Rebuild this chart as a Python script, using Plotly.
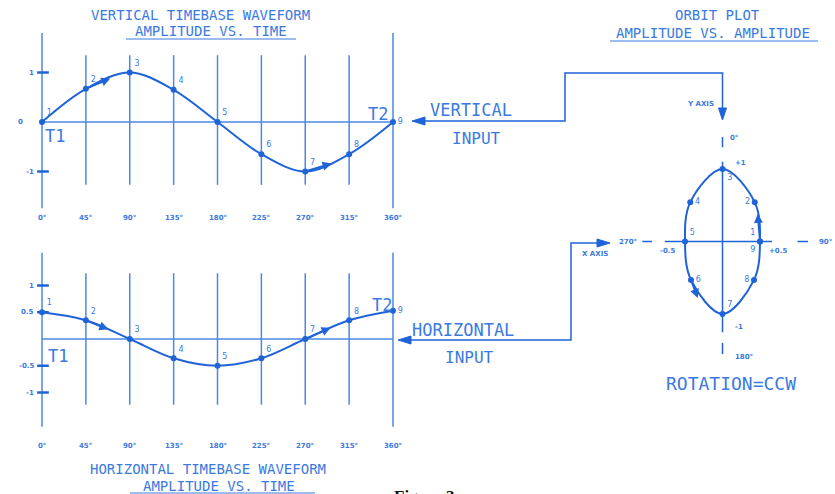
import plotly.graph_objects as go

# ---------------- data ----------------
DEGREES = [0, 45, 90, 135, 180, 225, 270, 315, 360]
DEG_LABELS = ["0°", "45°", "90°", "135°", "180°", "225°", "270°", "315°", "360°"]
POINT_LABELS = ["1", "2", "3", "4", "5", "6", "7", "8", "9"]

VERT_AMP = [0, 0.67, 1.0, 0.65, 0, -0.65, -1.0, -0.65, 0]
HORZ_AMP = [0.5, 0.35, 0, -0.36, -0.5, -0.36, 0, 0.35, 0.53]

ORBIT_X = [0.5, 0.43, 0, -0.43, -0.5, -0.42, 0, 0.42, 0.5]
ORBIT_Y = [0, 0.54, 1.0, 0.54, 0, -0.53, -1.0, -0.53, 0]

VERT_TICKS = [1, 0, -1]
VERT_TICK_TEXT = ["1", "0", "-1"]
HORZ_TICKS = [1, 0.5, -0.5, -1]
HORZ_TICK_TEXT = ["1", "0.5", "-0.5", "-1"]

# direction arrows: head position + index of the point the arrow runs from
VERT_ARROW_DEG = [70, 297]
VERT_ARROW_AMP = [0.88, -0.84]
VERT_ARROW_FROM = [1, 6]
HORZ_ARROW_DEG = [68, 296]
HORZ_ARROW_AMP = [0.18, 0.21]
HORZ_ARROW_FROM = [1, 6]
ORBIT_ARROW_X = [0.47, -0.33]
ORBIT_ARROW_Y = [0.38, -0.78]
ORBIT_ARROW_FROM = [0, 5]

# ---------------- style / geometry ----------------
W, H = 835, 494
LINE = "#1f63d8"
GRID = "#4b88e6"
TEXT = "#3a7ae2"
FONT = "DejaVu Sans"
MONO = "DejaVu Sans Mono"


def px(x):
    return x / W


def py(y):
    return 1 - y / H


# top waveform: 0deg at 42px, 360deg at 393px ; zero at 122px, 49.5 px/unit
X_RANGE = [-40, 400]
x0p, x1p = 42 - 40 * 351 / 360, 393 + 40 * 351 / 360
TOP_R = 2.0
top_t, top_b = 122 - TOP_R * 49.5, 122 + TOP_R * 49.5
BOT_R = 2.1
bot_t, bot_b = 339 - BOT_R * 53.5, 339 + BOT_R * 53.5
# orbit: centre 722.5,241.5 ; 75 px/unit horizontally, 72.5 vertically
ORB_XR, ORB_YR = 1.5, 1.6
orb_l, orb_r = 722.5 - ORB_XR * 75, 722.5 + ORB_XR * 75
orb_t, orb_b = 241.5 - ORB_YR * 72.5, 241.5 + ORB_YR * 72.5

fig = go.Figure()

fig.add_trace(go.Scatter(
    x=DEGREES, y=VERT_AMP, mode="lines+markers+text", line=dict(color=LINE, width=2, shape="spline"),
    marker=dict(color=LINE, size=6), text=POINT_LABELS,
    textposition=["top right"] * 8 + ["middle right"],
    textfont=dict(family=FONT, size=8, color=TEXT), xaxis="x", yaxis="y", cliponaxis=False))
fig.add_trace(go.Scatter(
    x=DEGREES, y=HORZ_AMP, mode="lines+markers+text", line=dict(color=LINE, width=2, shape="spline"),
    marker=dict(color=LINE, size=6), text=POINT_LABELS,
    textposition=["top right"] * 8 + ["middle right"],
    textfont=dict(family=FONT, size=8, color=TEXT), xaxis="x2", yaxis="y2", cliponaxis=False))
fig.add_trace(go.Scatter(
    x=ORBIT_X, y=ORBIT_Y, mode="lines+markers+text", line=dict(color=LINE, width=2, shape="spline"),
    marker=dict(color=LINE, size=6), text=POINT_LABELS,
    textposition=["top left", "middle left", "bottom right", "middle right", "top right",
                  "middle right", "top right", "middle left", "bottom left"],
    textfont=dict(family=FONT, size=8, color=TEXT), xaxis="x3", yaxis="y3", cliponaxis=False))

shapes = []
annotations = []


def ann(text, x, y, size=8, color=TEXT, xanchor="center", yanchor="middle", family=MONO, **kw):
    annotations.append(dict(text=text, x=px(x), y=py(y), xref="paper", yref="paper",
                            xanchor=xanchor, yanchor=yanchor, showarrow=False,
                            font=dict(family=family, size=size, color=color), **kw))


# direction arrowheads (drawn from a curve point towards the head)
for xs, ys, hx, hy, frm, xa, ya in (
        (DEGREES, VERT_AMP, VERT_ARROW_DEG, VERT_ARROW_AMP, VERT_ARROW_FROM, "x", "y"),
        (DEGREES, HORZ_AMP, HORZ_ARROW_DEG, HORZ_ARROW_AMP, HORZ_ARROW_FROM, "x2", "y2"),
        (ORBIT_X, ORBIT_Y, ORBIT_ARROW_X, ORBIT_ARROW_Y, ORBIT_ARROW_FROM, "x3", "y3")):
    for x, y, i in zip(hx, hy, frm):
        annotations.append(dict(x=x, y=y, ax=xs[i], ay=ys[i], xref=xa, yref=ya, axref=xa, ayref=ya,
                                text="", showarrow=True, arrowhead=2, arrowsize=0.9, arrowwidth=2,
                                arrowcolor=LINE))

# grid lines of the two waveform panels
for xa, ya, outer, inner, ylab in (("x", "y", (1.8, -1.74), (1.35, -1.27), -1.94),
                                   ("x2", "y2", (1.61, -1.64), (1.23, -1.23), -2.0)):
    for d in DEGREES:
        top, bot = outer if d in (DEGREES[0], DEGREES[-1]) else inner
        shapes.append(dict(type="line", xref=xa, yref=ya, x0=d, x1=d, y0=bot, y1=top,
                           line=dict(color=GRID, width=1.5), layer="below"))
    shapes.append(dict(type="line", xref=xa, yref=ya, x0=DEGREES[0], x1=DEGREES[-1], y0=0, y1=0,
                       line=dict(color=GRID, width=1.5), layer="below"))
    for d, lab in zip(DEGREES, DEG_LABELS):
        annotations.append(dict(text="<b>" + lab + "</b>", x=d, y=ylab, xref=xa, yref=ya, showarrow=False,
                                font=dict(family=FONT, size=7, color=TEXT)))

# amplitude ticks & labels
for t, lab in zip(VERT_TICKS, VERT_TICK_TEXT):
    if t != 0:
        shapes.append(dict(type="line", xref="x", yref="y", x0=-5, x1=7, y0=t, y1=t,
                           line=dict(color=LINE, width=2.5)))
    annotations.append(dict(text="<b>" + lab + "</b>", x=-17 if t == 0 else -6, y=t, xref="x", yref="y",
                            xanchor="right", showarrow=False, font=dict(family=FONT, size=7, color=TEXT)))
for t, lab in zip(HORZ_TICKS, HORZ_TICK_TEXT):
    shapes.append(dict(type="line", xref="x2", yref="y2", x0=-5, x1=7, y0=t, y1=t,
                       line=dict(color=LINE, width=2.5)))
    annotations.append(dict(text="<b>" + lab + "</b>", x=-6, y=t, xref="x2", yref="y2",
                            xanchor="right", showarrow=False, font=dict(family=FONT, size=7, color=TEXT)))

# orbit axes (centre-line style)
orb_line = dict(color=LINE, width=1.5)
for y0, y1 in ((1.30, 1.44), (-1.25, 1.10), (-1.55, -1.40)):
    shapes.append(dict(type="line", xref="x3", yref="y3", x0=0, x1=0, y0=y0, y1=y1, line=orb_line))
for x0, x1 in ((-0.77, 0.66), (-1.07, -0.94), (1.0, 1.14)):
    shapes.append(dict(type="line", xref="x3", yref="y3", x0=x0, x1=x1, y0=0, y1=0, line=orb_line))

# connectors
conn = dict(color=LINE, width=1.5)
shapes.append(dict(type="path", xref="paper", yref="paper", line=conn,
                   path=f"M{px(420)},{py(121)} L{px(565)},{py(121)} L{px(565)},{py(73)} "
                        f"L{px(722.5)},{py(73)} L{px(722.5)},{py(110)}"))
shapes.append(dict(type="path", xref="paper", yref="paper", line=conn,
                   path=f"M{px(404)},{py(340)} L{px(571)},{py(340)} L{px(571)},{py(243)} L{px(600)},{py(243)}"))
for tri in (((412, 121), (425, 117), (425, 125)),
            ((722.5, 120), (718.5, 108), (726.5, 108)),
            ((398, 340), (411, 336), (411, 344)),
            ((610, 243), (597, 239), (597, 247))):
    (a, b), (c, d), (e, f) = tri
    shapes.append(dict(type="path", xref="paper", yref="paper", fillcolor=LINE, line=dict(color=LINE, width=1),
                       path=f"M{px(a)},{py(b)} L{px(c)},{py(d)} L{px(e)},{py(f)} Z"))

# titles
ann("VERTICAL TIMEBASE WAVEFORM", 200, 15, size=14)
ann("AMPLITUDE VS. TIME", 211, 31, size=14)
shapes.append(dict(type="line", xref="paper", yref="paper", x0=px(126), x1=px(296), y0=py(39), y1=py(39),
                   line=dict(color=TEXT, width=1.2)))
ann("HORIZONTAL TIMEBASE WAVEFORM", 208, 469, size=14)
ann("AMPLITUDE VS. TIME", 219, 486, size=14)
shapes.append(dict(type="line", xref="paper", yref="paper", x0=px(130), x1=px(315), y0=py(493), y1=py(493),
                   line=dict(color=TEXT, width=1.2)))
ann("ORBIT PLOT", 717, 15, size=14)
ann("AMPLITUDE VS. AMPLITUDE", 713, 33, size=14)
shapes.append(dict(type="line", xref="paper", yref="paper", x0=px(610), x1=px(818), y0=py(41), y1=py(41),
                   line=dict(color=TEXT, width=1.2)))

# T1 / T2
ann("T1", 43, 136, size=17, xanchor="left")
ann("T2", 366, 114, size=17, xanchor="left")
ann("T1", 46, 356, size=17, xanchor="left")
ann("T2", 370, 305, size=17, xanchor="left")

# inputs
ann("VERTICAL", 428, 110, size=17, xanchor="left")
ann("INPUT", 450, 139, size=16, xanchor="left")
ann("HORIZONTAL", 410, 330, size=17, xanchor="left")
ann("INPUT", 443, 357, size=16, xanchor="left")

# orbit labels
ann("<b>Y AXIS</b>", 700, 104, size=7, family=FONT)
ann("<b>X AXIS</b>", 595, 254, size=7, family=FONT)
ann("<b>270°</b>", 628, 242, size=7, family=FONT)
ann("<b>90°</b>", 834, 242, size=7, family=FONT, xanchor="right")
ann("<b>0°</b>", 734, 138, size=7, family=FONT)
ann("<b>180°</b>", 744, 357, size=7, family=FONT)
ann("<b>+1</b>", 740, 163, size=7, family=FONT)
ann("<b>-1</b>", 739, 327, size=7, family=FONT)
ann("<b>-0.5</b>", 667, 251, size=7, family=FONT)
ann("<b>+0.5</b>", 778, 251, size=7, family=FONT)
ann("ROTATION=CCW", 731, 383, size=18)

# caption (cut off at the bottom edge, as in the source)
ann("<b>Figure 3</b>", 392, 485, size=17, color="#111111", xanchor="left", yanchor="top",
    family="Liberation Serif")

hidden = dict(visible=False, fixedrange=True)
fig.update_layout(
    width=W, height=H, margin=dict(l=0, r=0, t=0, b=0), autosize=False,
    paper_bgcolor="white", plot_bgcolor="white", showlegend=False,
    xaxis=dict(domain=[px(x0p), px(x1p)], range=X_RANGE, anchor="y", **hidden),
    yaxis=dict(domain=[py(top_b), py(top_t)], range=[-TOP_R, TOP_R], anchor="x", **hidden),
    xaxis2=dict(domain=[px(x0p), px(x1p)], range=X_RANGE, anchor="y2", **hidden),
    yaxis2=dict(domain=[py(bot_b), py(bot_t)], range=[-BOT_R, BOT_R], anchor="x2", **hidden),
    xaxis3=dict(domain=[px(orb_l), px(orb_r)], range=[-ORB_XR, ORB_XR], anchor="y3", **hidden),
    yaxis3=dict(domain=[py(orb_b), py(orb_t)], range=[-ORB_YR, ORB_YR], anchor="x3", **hidden),
    shapes=shapes, annotations=annotations,
)

fig.write_html("out.html", config={"displayModeBar": False},
               post_script="document.body.style.margin='0';document.body.style.overflow='hidden';")
